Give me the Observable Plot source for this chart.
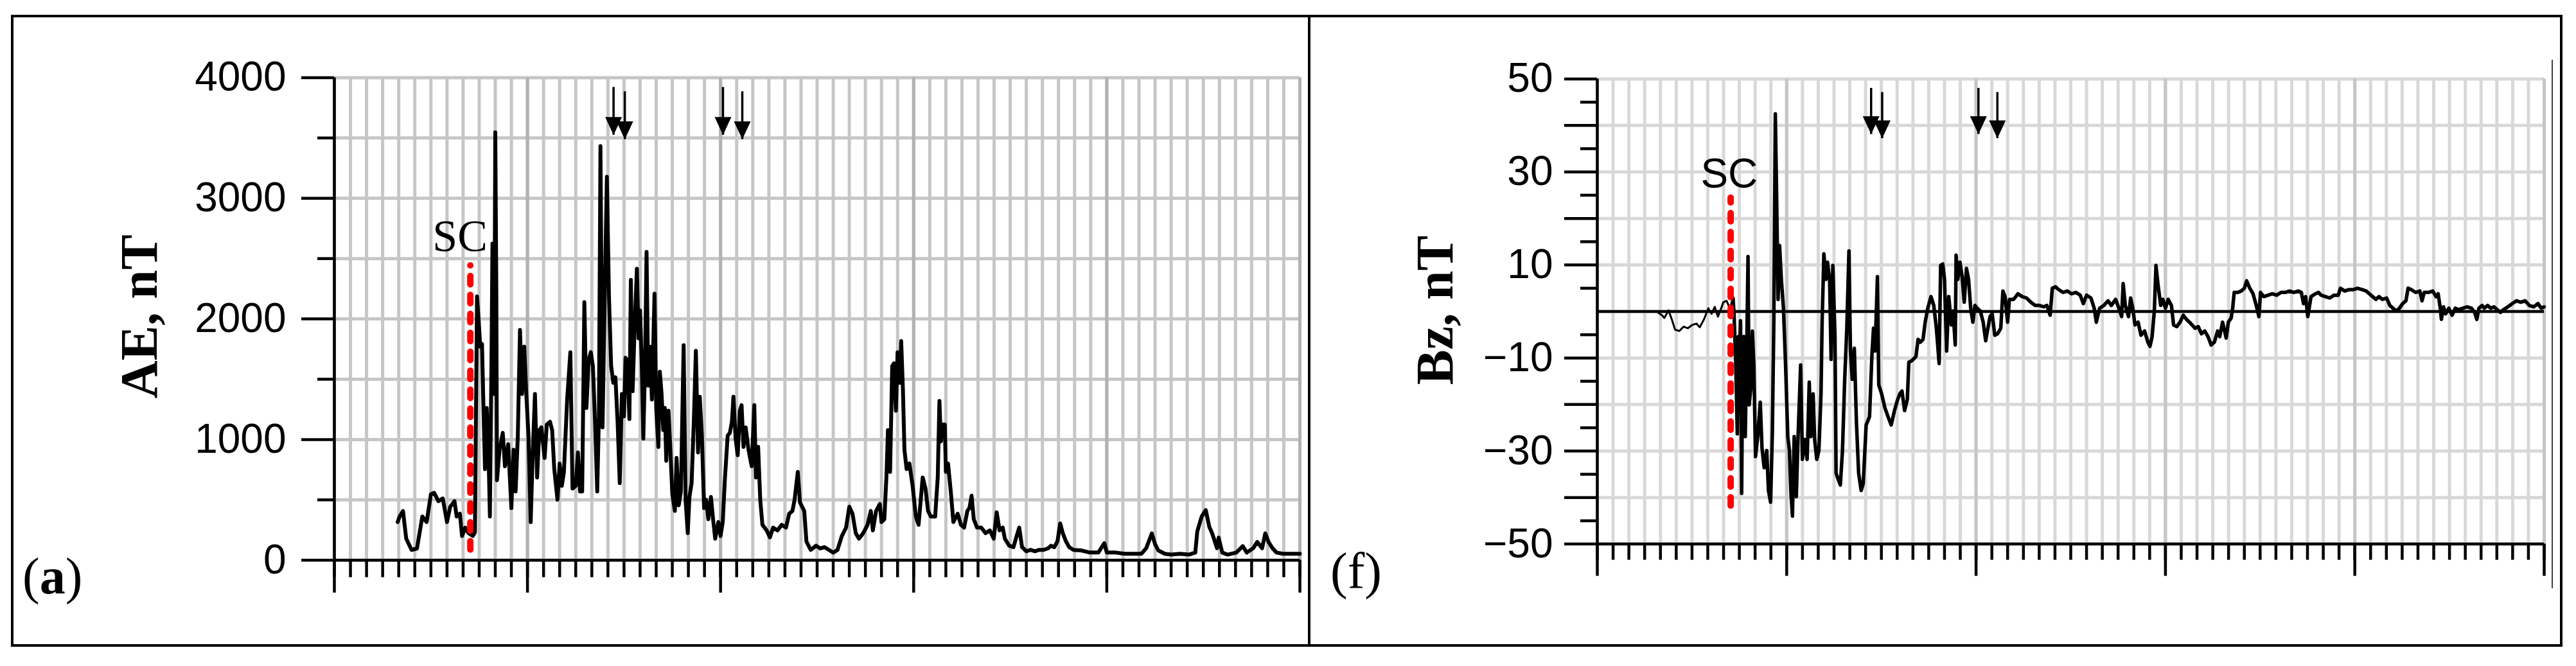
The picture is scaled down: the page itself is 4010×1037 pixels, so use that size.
<!DOCTYPE html>
<html><head><meta charset="utf-8">
<script src="https://cdn.jsdelivr.net/npm/d3@7"></script>
<script src="https://cdn.jsdelivr.net/npm/@observablehq/plot@0.6"></script>
<style>
body{margin:0;background:#fff;}
#root{position:relative;width:4010px;height:1037px;overflow:hidden;background:#fff;}
.panel{position:absolute;top:0;}
.panel svg{max-width:none !important;display:block;}
</style></head><body><div id="root"></div>
<script>
// ---------------- data ----------------
const aeHours = [7.87,8.1,8.53,8.93,9.6,10.27,10.93,11.47,12.0,12.4,12.93,13.47,14.0,14.4,14.93,15.2,15.6,15.87,16.27,16.67,17.2,17.47,17.73,17.92,18.13,18.35,18.53,18.72,18.93,19.15,19.33,19.52,19.65,19.87,20.0,20.13,20.21,20.53,20.93,21.2,21.6,22.0,22.27,22.53,22.8,23.07,23.33,23.6,23.87,24.13,24.4,24.67,24.93,25.2,25.47,25.73,26.13,26.4,26.8,27.07,27.33,27.73,28.0,28.27,28.53,28.93,29.33,29.6,30.0,30.27,30.53,30.8,31.07,31.33,31.6,31.87,32.13,32.4,32.67,32.88,33.07,33.33,33.6,33.87,34.13,34.4,34.67,34.93,35.2,35.47,35.73,36.0,36.19,36.4,36.67,36.85,37.07,37.33,37.6,37.81,38.0,38.21,38.4,38.61,38.8,39.01,39.2,39.47,39.79,40.0,40.27,40.45,40.67,40.88,41.07,41.25,41.52,41.73,42.0,42.32,42.53,42.8,43.07,43.41,43.65,43.92,44.13,44.4,44.67,44.93,45.2,45.41,45.68,45.95,46.21,46.48,46.8,47.07,47.33,47.73,48.0,48.27,48.53,48.88,49.15,49.41,49.6,49.87,50.13,50.4,50.61,50.85,51.12,51.47,51.87,52.19,52.4,52.67,52.93,53.2,53.73,54.13,54.53,55.07,55.6,56.13,56.53,56.93,57.2,57.6,57.87,58.4,58.67,59.2,59.87,60.4,60.93,61.47,62.0,62.53,63.07,63.6,64.0,64.4,64.8,65.2,65.73,66.27,66.67,66.93,67.33,67.79,68.0,68.35,68.61,68.8,69.07,69.33,69.55,69.79,70.0,70.27,70.45,70.67,70.85,71.12,71.47,71.87,72.27,72.61,72.88,73.12,73.47,73.79,74.13,74.67,74.99,75.2,75.39,75.6,75.87,76.0,76.27,76.61,76.93,77.47,77.87,78.27,78.67,78.93,79.2,79.47,79.87,80.4,80.93,81.47,81.95,82.32,82.67,83.07,83.33,83.87,84.4,84.8,85.12,85.47,86.0,86.53,87.07,87.6,88.13,88.67,89.07,89.47,89.87,90.21,90.53,90.93,91.33,91.87,92.8,93.9,94.95,95.7,96.0,97.1,98.2,99.2,100.3,100.9,101.6,102.0,102.4,103.2,104.0,105.1,106.2,107.0,107.25,107.8,108.3,108.75,109.1,109.7,109.9,110.35,111.0,112.1,112.9,113.4,114.2,114.7,115.3,115.7,116.1,116.6,117.1,117.9,119.0,120.0];
const aeValues = [316,360,408,178,85,97,362,316,547,558,489,512,316,443,489,362,385,200,270,224,200,230,2186,2001,1770,1793,1262,755,1262,916,362,1609,2624,1378,3547,2255,662,916,1055,778,962,432,916,570,1032,1909,1378,1770,1355,1032,316,916,1378,685,1078,1101,847,1124,1147,1078,755,501,801,616,732,1332,1724,593,616,893,570,570,2139,1262,1655,1724,1609,1147,570,1193,3432,1101,2186,3178,2186,1609,1470,1516,1147,639,1378,1193,1678,1655,1170,2324,1401,1955,2416,1839,2070,1609,1008,1609,2555,1447,1770,1332,2209,1262,939,1562,1378,1078,1262,824,1239,962,547,408,847,455,570,1782,501,224,524,639,1147,1736,893,1355,1032,432,501,339,524,339,178,316,200,316,662,1032,1055,1147,1355,1008,870,1239,1285,939,1101,916,778,1285,685,939,501,293,247,189,270,247,293,270,385,408,501,732,478,408,155,85,120,97,108,85,62,85,200,270,443,385,224,178,224,293,408,247,408,466,316,339,685,1078,732,1609,1632,1239,1724,1470,1816,1401,916,755,801,616,362,293,501,685,593,408,362,362,685,1320,985,1124,1124,732,801,570,316,385,293,270,408,432,535,339,270,270,224,247,178,397,247,270,178,120,108,200,270,108,74,85,74,85,85,97,120,108,155,305,224,155,108,85,81,63,63,141,63,63,53,53,53,99,222,134,81,53,46,53,46,63,239,363,415,275,222,99,187,63,46,63,116,63,99,151,99,222,151,99,63,53,53,53];

const bzHours = [7.67,8.2,8.49,9.03,9.44,9.85,10.39,10.94,11.48,12.03,12.57,12.98,13.52,14.07,14.48,14.88,15.29,15.7,15.97,16.38,16.79,17.2,17.33,17.55,17.74,17.88,18.01,18.15,18.29,18.42,18.56,18.75,18.97,19.1,19.24,19.46,19.65,19.84,20.05,20.33,20.65,20.87,21.14,21.47,21.69,21.96,22.18,22.37,22.56,22.72,22.91,23.1,23.32,23.59,23.86,24.14,24.35,24.54,24.73,24.95,25.22,25.44,25.77,25.99,26.26,26.59,26.86,27.07,27.35,27.54,27.81,28.08,28.35,28.49,28.71,28.98,29.17,29.44,29.63,29.85,30.12,30.26,30.53,30.8,31.07,31.35,31.62,31.89,32.08,32.3,32.57,32.84,33.12,33.44,33.7,34.07,34.5,34.8,35.0,35.2,35.5,35.67,36.03,36.44,36.84,37.25,37.66,38.07,38.34,38.61,38.94,39.29,39.48,39.84,40.38,40.65,40.93,41.28,41.55,41.88,42.29,42.64,42.97,43.32,43.51,43.78,44.0,44.27,44.54,44.87,45.09,45.36,45.47,45.69,45.96,46.23,46.5,46.78,47.05,47.32,47.59,47.86,48.14,48.54,48.9,49.22,49.5,49.77,50.04,50.37,50.72,51.13,51.4,51.67,52.0,52.22,52.76,53.31,53.85,54.39,54.94,55.48,56.03,56.57,56.98,57.39,57.66,58.07,58.48,59.02,59.56,60.1,60.65,61.2,61.6,62.0,62.56,62.97,63.24,63.65,64.19,64.73,65.14,65.69,66.1,66.45,66.64,66.91,67.32,67.59,67.86,68.14,68.54,68.9,69.36,69.77,70.04,70.31,70.59,70.8,71.07,71.4,71.67,72.0,72.35,72.76,73.03,73.44,73.85,74.26,74.67,75.21,75.76,76.16,76.57,76.98,77.39,77.8,78.2,78.61,78.88,79.24,79.7,79.97,80.33,80.52,80.71,81.2,81.6,82.01,82.29,82.69,83.1,83.51,83.84,84.05,84.46,85.01,85.55,86.1,86.64,87.18,87.73,88.27,88.82,89.22,89.5,89.77,90.04,90.45,90.99,91.4,91.73,92.27,92.82,93.36,93.9,94.18,94.72,95.27,95.81,96.35,96.9,97.44,97.85,98.26,98.67,99.07,99.48,100.03,100.44,100.84,101.25,101.66,102.07,102.48,102.75,103.16,103.7,104.24,104.52,104.79,105.33,105.88,106.29,106.56,106.83,106.97,107.24,107.51,107.92,108.33,108.73,109.14,109.69,110.23,110.78,111.18,111.46,111.73,112.14,112.41,112.82,113.22,113.63,114.04,114.45,114.86,115.4,115.95,116.49,117.03,117.58,118.12,118.67,119.21,119.62,120.0];
const bzValues = [-0.2,-0.8,-1.4,0.25,-1.7,-3.9,-4.2,-3.25,-3.6,-2.9,-2.6,-3.4,-1.7,0.7,-0.5,1.0,-1.1,0.7,2.0,2.3,0.7,2.9,-0.5,-11.5,-26.3,-5.4,-11.5,-2.0,-39.1,-11.5,-5.4,-26.9,-4.2,11.8,-20.1,-16.4,-4.2,-11.5,-31.2,-26.9,-19.5,-29.3,-33.6,-29.9,-38.5,-41.0,-26.3,-2.3,42.5,25.3,2.6,14.2,6.9,0.7,-11.5,-26.9,-29.9,-39.1,-44.0,-26.9,-39.8,-26.9,-11.5,-31.8,-27.5,-31.8,-15.2,-26.9,-17.7,-27.5,-31.8,-29.9,-17.7,-2.3,12.4,6.9,10.6,6.9,-10.3,9.9,-5.4,-34.8,-36.1,-37.3,-29.9,-14.6,-3.6,13.0,-8.5,-14.6,-7.9,-23.8,-34.8,-38.5,-37.0,-24.4,-22.6,-9.4,-3.6,-8.5,7.5,-15.8,-17.7,-20.7,-22.6,-24.4,-21.3,-18.9,-17.7,-17.1,-21.3,-18.9,-10.9,-10.6,-9.7,-6.0,-6.6,-6.0,-2.3,0.7,3.2,1.3,-3.6,-11.2,9.9,10.2,6.9,-8.5,3.2,-2.9,0.1,-7.2,12.1,6.9,10.6,7.5,2.0,9.3,6.9,0.7,-2.3,1.3,0.7,0.1,-2.3,-6.3,-3.6,-1.1,-0.5,-5.1,-4.8,-3.6,4.4,3.2,-2.3,2.6,2.6,3.8,3.2,2.9,2.0,1.3,1.3,1.0,1.3,-0.8,5.0,5.3,4.7,4.1,4.4,3.8,4.1,3.5,1.7,3.5,2.9,0.7,-2.3,0.7,1.3,2.3,1.3,2.6,0.7,-1.1,6.0,1.3,-1.1,2.9,0.7,-2.9,-2.3,-5.1,-4.2,-6.6,-7.5,-5.4,0.1,9.9,5.6,1.3,2.6,0.7,2.6,1.3,-2.9,-3.25,-2.3,-0.8,-1.7,-2.6,-3.6,-3.25,-4.8,-4.2,-5.4,-7.2,-6.6,-4.2,-5.4,-2.3,-5.7,-2.3,-1.4,0.7,4.1,4.1,4.4,5.0,6.6,5.0,3.8,1.3,-1.1,4.1,3.2,3.5,3.8,3.5,4.1,4.1,4.4,4.1,4.4,4.1,1.7,3.2,-1.1,3.2,3.8,4.1,3.5,3.2,2.9,3.5,3.5,5.0,4.4,4.7,4.7,5.0,4.7,4.4,3.8,3.2,2.6,3.2,2.6,2.9,1.3,0.7,0.1,0.7,1.7,2.3,5.0,4.7,4.1,4.4,2.3,4.1,4.1,4.4,3.2,3.8,0.7,-1.7,1.0,-0.5,0.7,-0.8,0.7,0.4,0.7,1.0,0.7,-0.2,-1.7,0.7,1.3,0.7,1.3,0.7,1.0,0.4,-0.2,0.4,1.0,1.7,2.3,2.0,2.3,1.3,1.0,1.7,0.7,1.0];

const scHour = 16.9;                       // storm sudden commencement
const arrowHours = [34.7, 36.1, 48.3, 50.7];
const aeMajorTicks = [0, 1000, 2000, 3000, 4000];
const aeMinorTicks = [500, 1500, 2500, 3500];
const bzLabelTicks = [-50, -30, -10, 10, 30, 50];
const bzMidTicks = [-40, -20, 20, 40];
const hourMajorTicks = [0, 24, 48, 72, 96, 120];
const panelLetters = ["a", "f"];
const yTitles = ["AE, nT", "Bz, nT"];

// ---------------- helpers ----------------
const sans = "'Liberation Sans', Arial, sans-serif";
const serif = "'Liberation Serif', 'Times New Roman', serif";
const hourMinorTicks = d3.range(0, 121, 2);
const ae = aeHours.map((h, i) => ({h, v: aeValues[i]}));
const bz = bzHours.map((h, i) => ({h, v: bzValues[i]}));
const scIdx = bzHours.findIndex(h => h > scHour) + 1;
const bzPre = bz.slice(0, scIdx);
const bzPost = bz.slice(scIdx - 1);

const downTriangle = {draw(ctx) { ctx.moveTo(-13, -28); ctx.lineTo(13, -28); ctx.lineTo(0, 0); ctx.closePath(); }};
function arrowsFor([lo, hi]) {
  const s = hi - lo;
  return arrowHours.map((h, i) => ({h, top: hi - s * (i % 2 ? 0.029 : 0.020), tip: hi - s * (i % 2 ? 0.128 : 0.119)}));
}
function arrowMarks(domain) {
  const a = arrowsFor(domain);
  return [
    Plot.ruleX(a, {x: "h", y1: "top", y2: "tip", stroke: "black", strokeWidth: 3.5}),
    Plot.dot(a, {x: "h", y: "tip", symbol: downTriangle, fill: "black", stroke: "none", r: 10})
  ];
}
const blank = () => "";
const gridW = 5;

// ---------------- panel (a): AE ----------------
const aeDomain = [0, 4000];
const p1 = Plot.plot({
  width: 2038, height: 1037,
  marginLeft: 520, marginRight: 15, marginTop: 120.4, marginBottom: 165.3,
  style: {fontFamily: sans, fontSize: "64px", color: "black", background: "transparent", overflow: "visible"},
  x: {domain: [0, 120], label: null},
  y: {domain: aeDomain, label: null},
  marks: [
    Plot.gridY({ticks: d3.range(0, 4001, 500), stroke: "#c6c6c6", strokeOpacity: 1, strokeWidth: gridW}),
    Plot.gridX({ticks: hourMinorTicks, stroke: "#c6c6c6", strokeOpacity: 1, strokeWidth: gridW}),
    Plot.gridX({ticks: hourMajorTicks, stroke: "#b2b2b2", strokeOpacity: 1, strokeWidth: gridW}),
    Plot.line(ae, {x: "h", y: "v", stroke: "black", strokeWidth: 6, strokeLinejoin: "round"}),
    Plot.ruleX([scHour], {y1: 85, y2: 2441, stroke: "#ff0000", strokeWidth: 10, strokeDasharray: "13 16.5", strokeLinecap: "round"}),
    Plot.text(["SC"], {x: scHour - 4.7, y: 2564, text: d => d, textAnchor: "start", lineAnchor: "bottom", fontFamily: serif, fontSize: 70, fill: "black"}),
    ...arrowMarks(aeDomain),
    Plot.ruleX([0], {stroke: "black", strokeWidth: 4.5}),
    Plot.ruleY([0], {stroke: "black", strokeWidth: 4.5}),
    Plot.axisY({ticks: aeMajorTicks, tickSize: 51, tickPadding: 24, strokeWidth: 4.5, label: null, fontSize: 64, fontFamily: sans, tickFormat: d => String(d)}),
    Plot.axisY({ticks: aeMinorTicks, tickSize: 26, strokeWidth: 4.5, label: null, tickFormat: blank}),
    Plot.axisX({ticks: hourMinorTicks, tickSize: 27, strokeWidth: 4.5, label: null, tickFormat: blank}),
    Plot.axisX({ticks: hourMajorTicks, tickSize: 51, strokeWidth: 4.5, label: null, tickFormat: blank})
  ]
});

// ---------------- panel (f): Bz ----------------
const bzDomain = [-50, 50];
const p2 = Plot.plot({
  width: 1972, height: 1037,
  marginLeft: 448, marginRight: 50, marginTop: 122.4, marginBottom: 190.4,
  style: {fontFamily: sans, fontSize: "64px", color: "black", background: "transparent", overflow: "visible"},
  x: {domain: [0, 120], label: null},
  y: {domain: bzDomain, label: null},
  marks: [
    Plot.gridY({ticks: d3.range(-50, 51, 10), stroke: "#d8d8d8", strokeOpacity: 1, strokeWidth: gridW}),
    Plot.gridX({ticks: hourMinorTicks, stroke: "#d8d8d8", strokeOpacity: 1, strokeWidth: gridW}),
    Plot.gridX({ticks: hourMajorTicks, stroke: "#c6c6c6", strokeOpacity: 1, strokeWidth: gridW}),
    Plot.ruleY([0], {stroke: "black", strokeWidth: 4.5}),
    Plot.line(bzPre, {x: "h", y: "v", stroke: "black", strokeWidth: 3, strokeLinejoin: "round"}),
    Plot.line(bzPost, {x: "h", y: "v", stroke: "black", strokeWidth: 5.5, strokeLinejoin: "round"}),
    Plot.ruleX([scHour], {y1: -41.8, y2: 24.4, stroke: "#ff0000", strokeWidth: 10, strokeDasharray: "13 16.5", strokeLinecap: "round"}),
    Plot.text(["SC"], {x: scHour - 3.8, y: 26.7, text: d => d, textAnchor: "start", lineAnchor: "bottom", fontFamily: sans, fontSize: 64, fill: "black"}),
    ...arrowMarks(bzDomain),
    Plot.ruleX([0], {stroke: "black", strokeWidth: 4.5}),
    Plot.ruleY([-50], {stroke: "black", strokeWidth: 4.5}),
    Plot.axisY({ticks: bzLabelTicks, tickSize: 51, tickPadding: 18, strokeWidth: 4.5, label: null, fontSize: 64, fontFamily: sans}),
    Plot.axisY({ticks: bzMidTicks, tickSize: 51, strokeWidth: 4.5, label: null, tickFormat: blank}),
    Plot.axisY({ticks: d3.range(-45, 50, 10), tickSize: 26, strokeWidth: 4.5, label: null, tickFormat: blank}),
    Plot.axisX({ticks: hourMinorTicks, tickSize: 25, strokeWidth: 4.5, label: null, tickFormat: blank}),
    Plot.axisX({ticks: hourMajorTicks, tickSize: 50, strokeWidth: 4.5, label: null, tickFormat: blank})
  ]
});

const root = document.getElementById("root");
const d1 = document.createElement("div"); d1.className = "panel"; d1.style.left = "0px"; d1.style.width = "2038px"; d1.appendChild(p1); root.appendChild(d1);
const d2 = document.createElement("div"); d2.className = "panel"; d2.style.left = "2038px"; d2.style.width = "1972px"; d2.appendChild(p2); root.appendChild(d2);

// ---------------- frame and labels ----------------
const ov = d3.select(root).append("svg").attr("width", 4010).attr("height", 1037)
  .style("position", "absolute").style("left", "0px").style("top", "0px").style("pointer-events", "none");
ov.append("rect").attr("x", 19).attr("y", 25).attr("width", 3968).attr("height", 980).attr("fill", "none").attr("stroke", "black").attr("stroke-width", 4);
ov.append("line").attr("x1", 2038).attr("x2", 2038).attr("y1", 25).attr("y2", 1005).attr("stroke", "black").attr("stroke-width", 4);
ov.append("line").attr("x1", 3973).attr("x2", 3973).attr("y1", 93).attr("y2", 916).attr("stroke", "black").attr("stroke-width", 1.5);
[[244, 493], [2261, 483]].forEach(([x, y], i) => {
  ov.append("text").attr("transform", `translate(${x},${y}) rotate(-90)`).attr("text-anchor", "middle")
    .attr("font-family", serif).attr("font-weight", "bold").attr("font-size", 82).attr("fill", "black").text(yTitles[i]);
});
const la = ov.append("text").attr("x", 35).attr("y", 924).attr("font-family", serif).attr("font-size", 80).attr("fill", "black");
la.append("tspan").text("(");
la.append("tspan").attr("font-weight", "bold").text(panelLetters[0]);
la.append("tspan").text(")");
ov.append("text").attr("x", 2071).attr("y", 916).attr("font-family", serif).attr("font-size", 80).attr("fill", "black").text(`(${panelLetters[1]})`);
</script></body></html>
